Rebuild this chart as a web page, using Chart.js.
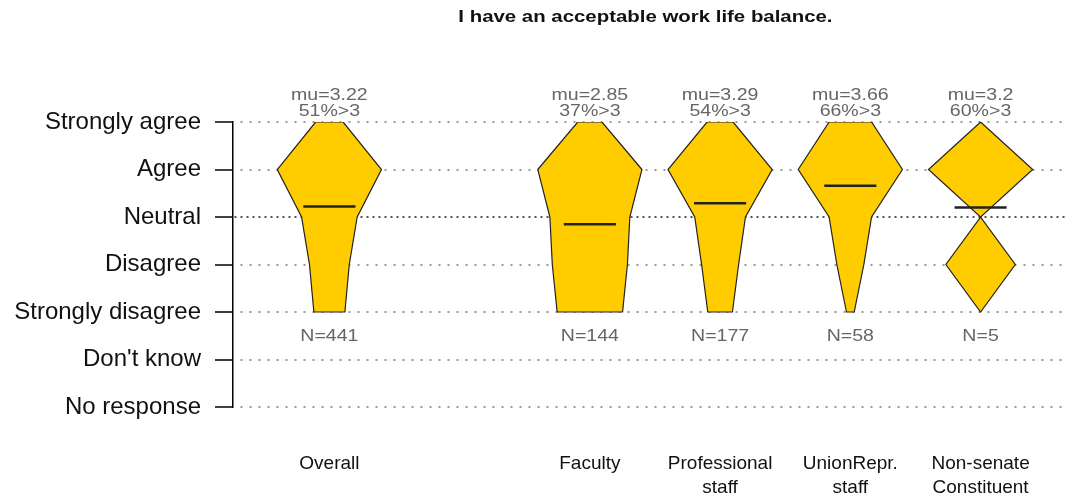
<!DOCTYPE html>
<html>
<head>
<meta charset="utf-8">
<script src="https://cdn.jsdelivr.net/npm/chart.js@4.4.0/dist/chart.umd.min.js"></script>
<style>
  html, body { margin: 0; padding: 0; background: #fff; }
</style>
</head>
<body>
<canvas id="violinChart" width="1075" height="501"></canvas>
<script>
// Survey question shown as title
const questionTitle = 'I have an acceptable work life balance.';

// Response scale, y value 5 (top) .. -1 (bottom)
const responseLabels = ['Strongly agree', 'Agree', 'Neutral', 'Disagree', 'Strongly disagree', "Don't know", 'No response'];
const responseValues = [5, 4, 3, 2, 1, 0, -1];

// Groups along the x axis (empty entry = blank slot)
const groupLabels = [['Overall'], [], ['Faculty'], ['Professional', 'staff'], ['UnionRepr.', 'staff'], ['Non-senate', 'Constituent']];

// Answer counts, ordered Strongly disagree .. Strongly agree (read from shape widths)
const countsOverall = [53, 68, 95, 178, 47];
const countsFaculty = [27, 31, 33, 43, 10];
const countsProfessional = [18, 27, 37, 76, 19];
const countsUnion = [2, 7, 11, 27, 11];
const countsNonSenate = [0, 2, 0, 3, 0];
const groupCounts = [countsOverall, null, countsFaculty, countsProfessional, countsUnion, countsNonSenate];

// Printed stats per group
const muValues = [3.22, null, 2.85, 3.29, 3.66, 3.2];
const pctAbove3 = [51, null, 37, 54, 66, 60];
const nValues = [441, null, 144, 177, 58, 5];

const maxHalfWidth = 0.4;   // x units for the widest level
const meanHalfWidth = 0.2;

// Build the outline of one violin: down the right side, back up the left
function shapePoints(counts, center) {
    const peak = Math.max(...counts);
    const right = [];
    const left = [];
    for (let k = counts.length - 1; k >= 0; k--) {
        right.push({ x: center + maxHalfWidth * counts[k] / peak, y: k + 1 });
    }
    for (let k = 0; k < counts.length; k++) {
        left.push({ x: center - maxHalfWidth * counts[k] / peak, y: k + 1 });
    }
    return right.concat(left, [right[0]]);
}

const datasets = [];
groupCounts.forEach((counts, i) => {
    if (!counts) return;
    const center = i + 1;
    datasets.push({
        label: 'shape ' + i,
        data: shapePoints(counts, center),
        showLine: true,
        fill: 'shape',
        backgroundColor: '#FFCC00',
        borderColor: '#222222',
        borderWidth: 1.2,
        pointRadius: 0,
        tension: 0,
        order: 2
    });
    datasets.push({
        label: 'mean ' + i,
        data: [{ x: center - meanHalfWidth, y: muValues[i] }, { x: center + meanHalfWidth, y: muValues[i] }],
        showLine: true,
        fill: false,
        borderColor: '#222222',
        borderWidth: 2.5,
        pointRadius: 0,
        order: 1
    });
});

// Draw text horizontally stretched a little, like the source rendering
function drawStretched(ctx, text, x, y, font, color, stretch) {
    ctx.save();
    ctx.font = font;
    ctx.fillStyle = color;
    ctx.textAlign = 'center';
    ctx.textBaseline = 'middle';
    ctx.translate(x, y);
    ctx.scale(stretch, 1);
    ctx.fillText(text, 0, 0);
    ctx.restore();
}

const statLabels = {
    id: 'statLabels',
    afterDatasetsDraw(chart) {
        const { ctx, chartArea, scales: { x, y } } = chart;
        const fam = '"Liberation Sans", Arial, sans-serif';
        drawStretched(ctx, questionTitle, (chartArea.left + chartArea.right) / 2 - 4, 17, 'bold 17px ' + fam, '#111', 1.2);
        groupLabels.forEach((g, i) => {
            if (muValues[i] == null) return;
            const px = x.getPixelForValue(i + 1);
            const top = y.getPixelForValue(5);
            drawStretched(ctx, 'mu=' + muValues[i], px, top - 27, '17px ' + fam, '#666', 1.15);
            drawStretched(ctx, pctAbove3[i] + '%>3', px, top - 11, '17px ' + fam, '#666', 1.15);
            drawStretched(ctx, 'N=' + nValues[i], px, y.getPixelForValue(1) + 24, '17px ' + fam, '#666', 1.15);
        });
    }
};

const ctx = document.getElementById('violinChart').getContext('2d');
new Chart(ctx, {
    type: 'scatter',
    data: { datasets: datasets },
    plugins: [statLabels],
    options: {
        responsive: false,
        animation: false,
        layout: { padding: { top: 122, right: 3, bottom: 0, left: 0 } },
        plugins: {
            legend: { display: false },
            tooltip: { enabled: false },
            title: { display: false }
        },
        scales: {
            x: {
                type: 'linear',
                min: 0.26,
                max: 6.655,
                afterBuildTicks: (scale) => {
                    scale.ticks = groupLabels
                        .map((g, i) => ({ value: i + 1 }))
                        .filter((t) => groupLabels[t.value - 1].length > 0);
                },
                afterFit: (scale) => { scale.height = 94; },
                grid: { display: false, drawTicks: false },
                border: { display: false },
                ticks: {
                    autoSkip: false,
                    maxRotation: 0,
                    padding: 45,
                    color: '#111',
                    font: { family: '"Liberation Sans", Arial, sans-serif', size: 19, lineHeight: 1.26 },
                    callback: (value) => groupLabels[value - 1]
                }
            },
            y: {
                type: 'linear',
                min: -1,
                max: 5,
                afterBuildTicks: (scale) => {
                    scale.ticks = responseValues.map((v) => ({ value: v }));
                },
                afterFit: (scale) => { scale.width = 233; },
                grid: {
                    color: (c) => (c.tick && c.tick.value === 3 ? '#555' : '#999'),
                    lineWidth: 2,
                    tickLength: 18,
                    tickColor: '#000',
                    tickWidth: 1.5,
                    tickBorderDash: []
                },
                border: {
                    display: true,
                    color: '#000',
                    width: 1.5,
                    dash: (c) => (c.tick && c.tick.value === 3 ? [2, 4] : [2, 7]),
                    dashOffset: -7
                },
                ticks: {
                    padding: 14,
                    color: '#111',
                    font: { family: '"Liberation Sans", Arial, sans-serif', size: 24 },
                    callback: (value) => responseLabels[responseValues.indexOf(value)]
                }
            }
        }
    }
});
</script>
</body>
</html>
